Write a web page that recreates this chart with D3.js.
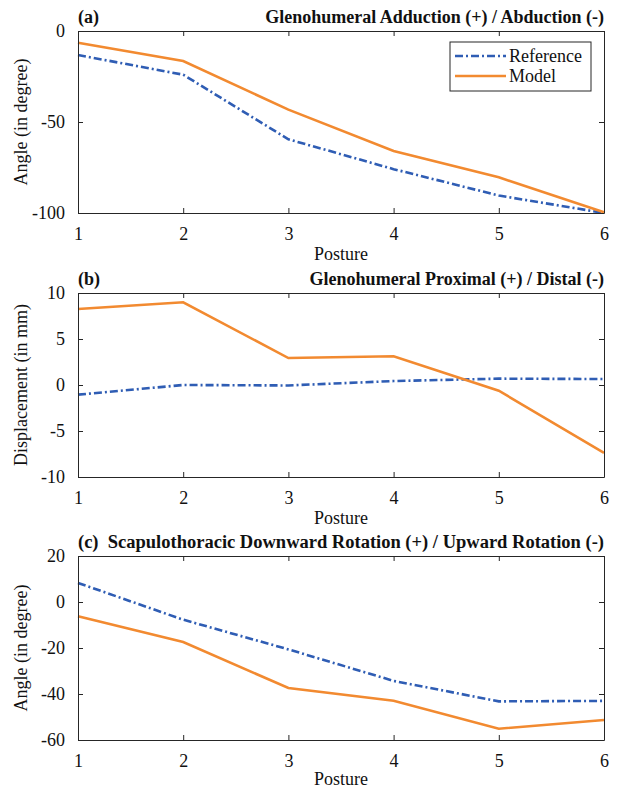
<!DOCTYPE html>
<html><head><meta charset="utf-8">
<script src="https://cdn.jsdelivr.net/npm/d3@7"></script>
<style>body{margin:0;background:#fff}svg{display:block}</style>
</head><body>
<script>
const postures = [1,2,3,4,5,6];
const refA = [-13.2,-24,-59.5,-75.9,-90.4,-100];
const modA = [-6.5,-16.5,-43.2,-65.9,-80.4,-99.6];
const refB = [-1.05,0,-0.05,0.43,0.69,0.65];
const modB = [8.26,8.99,2.93,3.12,-0.62,-7.39];
const refC = [8.3,-7.7,-20.6,-34.3,-43.2,-43];
const modC = [-6.2,-17.4,-37.4,-42.9,-55.1,-51.3];
const ticksA = [-100,-50,0];
const ticksB = [-10,-5,0,5,10];
const ticksC = [-60,-40,-20,0,20];

const W=617,H=789;
const svg=d3.select("body").append("svg").attr("width",W).attr("height",H);
const BLUE="#2f5db4", ORANGE="#f28a30";
const FS=18, FF="Liberation Serif";
const L=78,R=604;
const panels=[
 {top:31,bot:213,dom:[-100,0],ticks:ticksA,ref:refA,mod:modA,tag:"(a)",title:"Glenohumeral Adduction (+) / Abduction (-)",ylab:"Angle (in degree)",legend:true,px:47},
 {top:293,bot:477,dom:[-10,10],ticks:ticksB,ref:refB,mod:modB,tag:"(b)",title:"Glenohumeral Proximal (+) / Distal (-)",ylab:"Displacement (in mm)",px:47},
 {top:556,bot:740,dom:[-60,20],ticks:ticksC,ref:refC,mod:modC,tag:"(c)",title:"Scapulothoracic Downward Rotation (+) / Upward Rotation (-)",ylab:"Angle (in degree)",full:true,px:45}
];
const x=d3.scaleLinear().domain([1,6]).range([L,R]);
const fmt=d=>String(d);
const T=(sel)=>sel.style("font-family",FF).style("font-size",FS+"px").style("fill","#111");
panels.forEach(p=>{
  const y=d3.scaleLinear().domain(p.dom).range([p.bot,p.top]);
  const g=svg.append("g");
  const line=d3.line().x((d,i)=>x(postures[i])).y(d=>y(d));
  g.append("path").datum(p.ref).attr("d",line).attr("fill","none").attr("stroke",BLUE).attr("stroke-width",2.6).attr("stroke-dasharray","8,3,2,3");
  g.append("path").datum(p.mod).attr("d",line).attr("fill","none").attr("stroke",ORANGE).attr("stroke-width",2.6);
  const ax=(a)=>a.call(s=>s.select(".domain").attr("stroke","#262626")).call(s=>s.selectAll(".tick line").attr("stroke","#262626"));
  const tx=s=>T(s.selectAll("text"));
  g.append("g").attr("transform",`translate(0,${p.bot})`).call(d3.axisBottom(x).tickValues(postures).tickFormat(fmt).tickSize(-5).tickPadding(14).tickSizeOuter(0))
   .call(ax).call(tx);
  g.append("g").attr("transform",`translate(0,${p.top})`).call(d3.axisTop(x).tickValues(postures).tickSize(-5).tickFormat("").tickSizeOuter(0)).call(ax);
  g.append("g").attr("transform",`translate(${L},0)`).call(d3.axisLeft(y).tickValues(p.ticks).tickFormat(fmt).tickSize(-5).tickPadding(13).tickSizeOuter(0))
   .call(ax).call(tx);
  g.append("g").attr("transform",`translate(${R},0)`).call(d3.axisRight(y).tickValues(p.ticks).tickSize(-5).tickFormat("").tickSizeOuter(0)).call(ax);
  g.selectAll(".domain").attr("stroke-width",1);
  if(p.full){
    T(g.append("text").attr("x",L).attr("y",p.top-8).attr("textLength",R-L).attr("lengthAdjust","spacingAndGlyphs"))
     .style("font-weight","bold").style("white-space","pre").text(p.tag+"  "+p.title);
  } else {
    T(g.append("text").attr("x",L).attr("y",p.top-8)).style("font-weight","bold").text(p.tag);
    T(g.append("text").attr("x",R).attr("y",p.top-8).attr("text-anchor","end")).style("font-weight","bold").text(p.title);
  }
  T(g.append("text").attr("x",(L+R)/2).attr("y",p.bot+p.px).attr("text-anchor","middle")).text("Posture");
  T(g.append("text").attr("transform",`translate(${L-51},${(p.top+p.bot)/2}) rotate(-90)`).attr("text-anchor","middle")).text(p.ylab);
  if(p.legend){
    const lg=g.append("g");
    lg.append("rect").attr("x",450).attr("y",42).attr("width",141).attr("height",49).attr("fill","#fff").attr("stroke","#262626").attr("stroke-width",1);
    [["Reference",BLUE,"8,3,2,3"],["Model",ORANGE,null]].forEach((e,i)=>{
      const yy=56+i*20;
      lg.append("line").attr("x1",455).attr("x2",506).attr("y1",yy).attr("y2",yy).attr("stroke",e[1]).attr("stroke-width",2.6).attr("stroke-dasharray",e[2]);
      T(lg.append("text").attr("x",509).attr("y",yy+6)).text(e[0]);
    });
  }
});
</script>
</body></html>
